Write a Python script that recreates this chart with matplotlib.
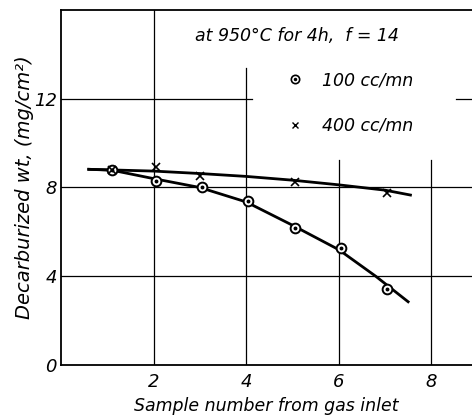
"""Decarburized weight vs. sample position from gas inlet (950 °C, 4 h)."""
import matplotlib
matplotlib.use("Agg")
import matplotlib.pyplot as plt
from matplotlib.legend_handler import HandlerTuple
from matplotlib.lines import Line2D

# ---- datos ----
x_100 = [1.1, 2.05, 3.05, 4.05, 5.05, 6.05, 7.05]
y_100 = [8.78, 8.29, 8.0, 7.37, 6.18, 5.28, 3.44]
x_400 = [1.1, 2.05, 3.0, 5.05, 7.05]
y_400 = [8.78, 8.93, 8.51, 8.26, 7.77]

# curvas dibujadas a mano en el original
cx_100 = [0.6, 1.1, 2.0, 3.0, 4.0, 5.0, 6.0, 6.8, 7.5]
cy_100 = [8.82, 8.78, 8.4, 8.0, 7.35, 6.3, 5.2, 4.0, 2.85]
cx_400 = [0.6, 2.0, 3.0, 4.0, 5.0, 6.0, 7.0, 7.55]
cy_400 = [8.82, 8.74, 8.63, 8.5, 8.33, 8.12, 7.88, 7.66]

xticks = [2, 4, 6, 8]
yticks = [0, 4, 8, 12]
label_100 = "100 cc/mn"
label_400 = "400 cc/mn"
note = "at 950°C for 4h,  f = 14"

font = dict(family="DejaVu Sans", style="italic")

fig = plt.figure(figsize=(4.72, 4.19), dpi=100)
ax = fig.add_axes([61 / 472, 1 - 365 / 419, 1 - 61 / 472, 355 / 419])
ax.set_xlim(0, 8.88)
ax.set_ylim(0, 16)

# rejilla parcial como en el papel
for xv, top in [(2, 1.0), (4, 0.837), (6, 0.577), (8, 0.577)]:
    ax.axvline(xv, ymax=top, color="black", lw=0.9, zorder=1)
ax.axhline(4, color="black", lw=0.9, zorder=1)
ax.axhline(8, color="black", lw=0.9, zorder=1)
ax.axhline(12, xmax=0.465, color="black", lw=0.9, zorder=1)
ax.axhline(12, xmin=0.96, color="black", lw=0.9, zorder=1)

ax.plot(cx_100, cy_100, color="black", lw=2.0, zorder=2)
ax.plot(cx_400, cy_400, color="black", lw=2.0, zorder=2)
ax.plot(x_100, y_100, "o", ms=7, mfc="white", mec="black", mew=1.4, zorder=3)
ax.plot(x_100, y_100, "o", ms=1.8, color="black", zorder=4)
ax.plot(x_400, y_400, "x", ms=6, color="black", mew=1.2, zorder=4)

ax.spines["right"].set_visible(False)
for s in ["left", "top", "bottom"]:
    ax.spines[s].set_linewidth(1.3)

ax.set_xticks(xticks)
ax.set_yticks(yticks)
ax.tick_params(length=0, labelsize=13)
ax.tick_params(axis="y", pad=3)
ax.tick_params(axis="x", pad=6)
for t in ax.get_xticklabels() + ax.get_yticklabels():
    t.set_fontstyle("italic")

ax.set_xlabel("Sample number from gas inlet", fontsize=12.5, labelpad=4, **font)
ax.set_ylabel("Decarburized wt, (mg/cm²)", fontsize=14, labelpad=0, **font)

ax.text(5.1, 14.85, note, ha="center", va="center", fontsize=12.5, **font)

h100 = (Line2D([], [], ls="none", marker="o", ms=6, mfc="white", mec="black", mew=1.2),
        Line2D([], [], ls="none", marker="o", ms=1.5, color="black"))
h400 = Line2D([], [], ls="none", marker="x", ms=5, color="black", mew=1.0)
ax.legend([h100, h400], [label_100, label_400],
          handler_map={tuple: HandlerTuple(ndivide=1, pad=0)},
          loc="upper left", bbox_to_anchor=(0.505, 0.872), frameon=False,
          handlelength=1.2, handletextpad=1.0, labelspacing=1.6,
          prop=dict(family="DejaVu Sans", style="italic", size=12.5))

fig.savefig("out.png", dpi=100)
